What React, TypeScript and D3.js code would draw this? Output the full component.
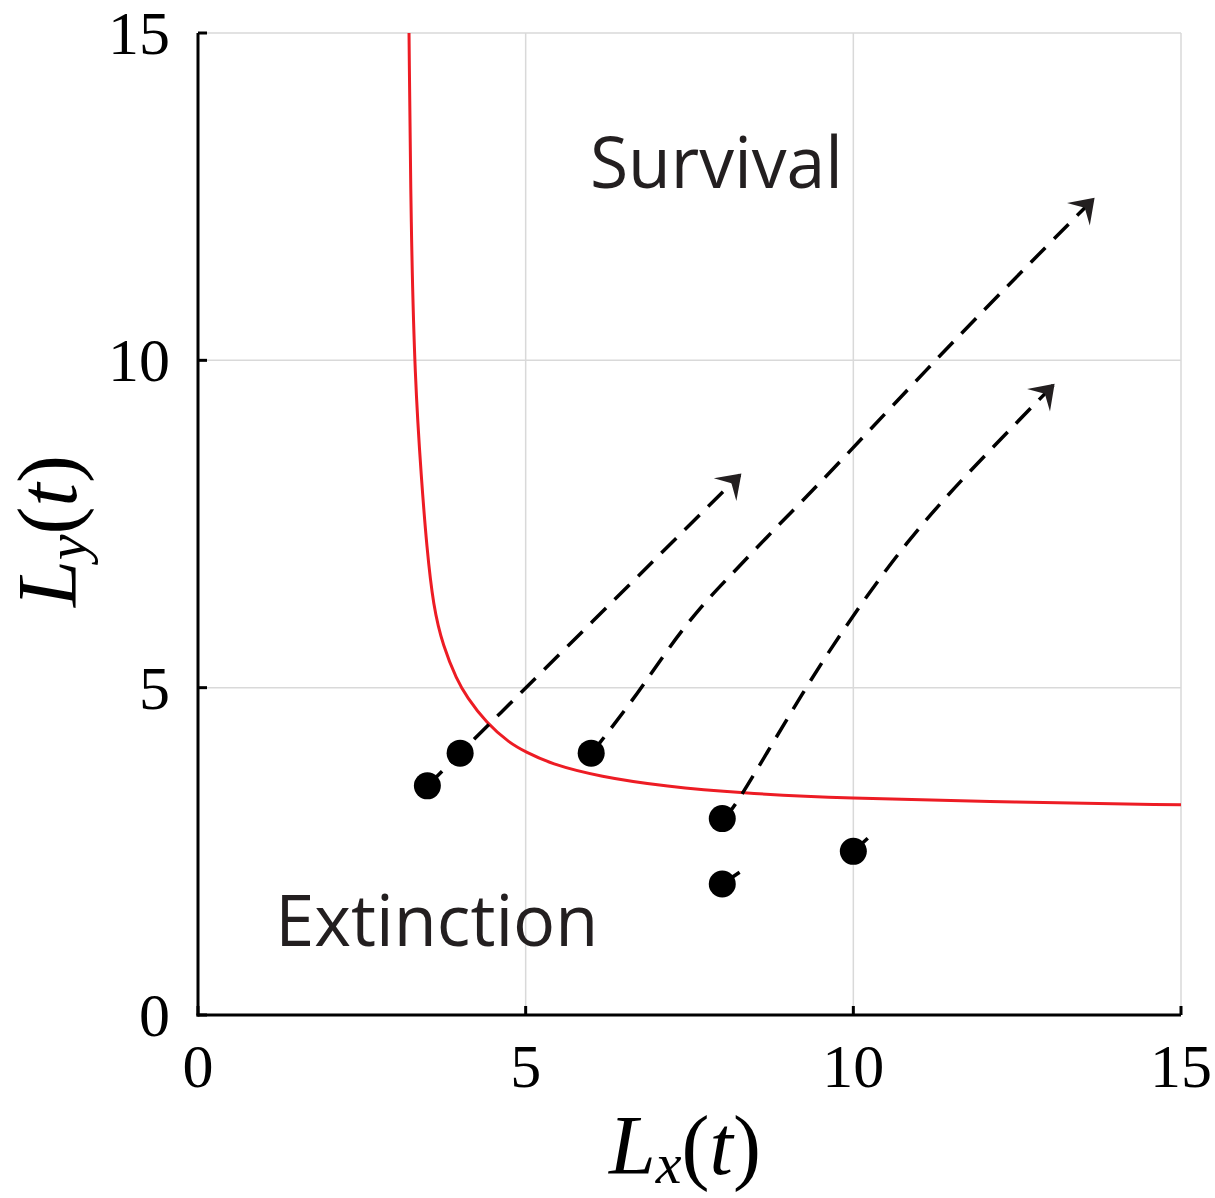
import React from "react";
import * as d3 from "d3";

// ---------- data ----------
const xTicks = [0, 5, 10, 15];
const yTicks = [0, 5, 10, 15];

// survival/extinction boundary
const boundaryX = [3.22, 3.25, 3.31, 3.41, 3.49, 3.59, 3.74, 3.95, 4.1, 4.4, 4.76, 5.0, 5.37, 6.13, 7.15, 8.27, 9.8, 12.5, 15];
const boundaryY = [15, 12, 9.7, 8.17, 7.15, 6.24, 5.63, 5.12, 4.86, 4.46, 4.15, 4.02, 3.84, 3.64, 3.49, 3.39, 3.31, 3.25, 3.21];

// initial conditions
const startX = [3.5, 4, 6, 8, 8, 10];
const startY = [3.5, 4, 4, 3, 2, 2.5];

// trajectories
const traj1X = [3.5, 4, 8.27];
const traj1Y = [3.5, 4, 8.25];
const traj2X = [6.0, 6.64, 7.16, 7.66, 8.16, 8.68, 9.19, 9.8, 11.32, 12.74, 13.66];
const traj2Y = [3.99, 4.81, 5.58, 6.23, 6.75, 7.3, 7.82, 8.45, 10.08, 11.53, 12.46];
const traj3X = [8.0, 8.16, 8.68, 9.19, 9.8, 10.82, 11.83, 13.05];
const traj3Y = [2.98, 3.13, 4.0, 4.86, 5.83, 7.26, 8.37, 9.62];
const traj4X = [8.0, 8.38];
const traj4Y = [2.0, 2.26];
const traj5X = [10.0, 10.22];
const traj5Y = [2.5, 2.7];

const arrowed = [true, true, true, false, false];

const regionLabels = ["Survival", "Extinction"];
const regionLabelX = [5.98, 1.18];
const regionLabelY = [12.63, 1.05];

// ---------- layout ----------
const W = 1215;
const H = 1198;
const left = 198, right = 1181, top = 33, bottom = 1015;

export default function App() {
  const x = d3.scaleLinear().domain([0, 15]).range([left, right]);
  const y = d3.scaleLinear().domain([0, 15]).range([bottom, top]);

  const zip = (xs: number[], ys: number[]) => xs.map((v, i) => [v, ys[i]] as [number, number]);

  const boundaryLine = d3
    .line<[number, number]>()
    .x((d) => x(d[0]))
    .y((d) => y(d[1]))
    .curve(d3.curveBasis);

  const trajLine = d3
    .line<[number, number]>()
    .x((d) => x(d[0]))
    .y((d) => y(d[1]))
    .curve(d3.curveBasis);

  const trajs = [
    zip(traj1X, traj1Y),
    zip(traj2X, traj2Y),
    zip(traj3X, traj3Y),
    zip(traj4X, traj4Y),
    zip(traj5X, traj5Y),
  ];

  const arrowHead = (pts: [number, number][]) => {
    const n = pts.length;
    const [x1, y1] = pts[n - 2];
    const [x2, y2] = pts[n - 1];
    const px1 = x(x1), py1 = y(y1), px2 = x(x2), py2 = y(y2);
    const ang = (Math.atan2(py2 - py1, px2 - px1) * 180) / Math.PI;
    return (
      <path
        d="M2,0 L-21,-16 L-12,0 L-21,16 Z"
        fill="#231f20"
        transform={`translate(${px2},${py2}) rotate(${ang})`}
      />
    );
  };

  const serif = "'Liberation Serif', 'Times New Roman', serif";

  return (
    <svg
      width={W}
      height={H}
      style={{ position: "absolute", left: 0, top: 0, background: "#fff" }}
    >
      <rect x={0} y={0} width={W} height={H} fill="#fff" />
      {/* grid */}
      {xTicks.map((t) => (
        <line key={"gx" + t} x1={x(t)} x2={x(t)} y1={y(0)} y2={y(15)} stroke="#d9d9d9" strokeWidth={1.5} />
      ))}
      {yTicks.map((t) => (
        <line key={"gy" + t} x1={x(0)} x2={x(15)} y1={y(t)} y2={y(t)} stroke="#d9d9d9" strokeWidth={1.5} />
      ))}

      {/* boundary */}
      <path
        d={boundaryLine(zip(boundaryX, boundaryY)) || ""}
        fill="none"
        stroke="#ed1c24"
        strokeWidth={3}
      />

      {/* trajectories */}
      {trajs.map((pts, i) => (
        <g key={"t" + i}>
          <path
            d={trajLine(pts) || ""}
            fill="none"
            stroke="#000"
            strokeWidth={3.5}
            strokeDasharray="21 12"
          />
          {arrowed[i] && arrowHead(pts)}
        </g>
      ))}

      {/* starting points */}
      {startX.map((v, i) => (
        <circle key={"p" + i} cx={x(v)} cy={y(startY[i])} r={13.5} fill="#000" />
      ))}

      {/* axes */}
      <line x1={x(0)} x2={x(0)} y1={y(0) + 1.5} y2={y(15)} stroke="#000" strokeWidth={3} />
      <line x1={x(0) - 1.5} x2={x(15)} y1={y(0)} y2={y(0)} stroke="#000" strokeWidth={3} />
      {yTicks.map((t) => (
        <line key={"ty" + t} x1={x(0)} x2={x(0) + 9} y1={y(t)} y2={y(t)} stroke="#000" strokeWidth={3} />
      ))}
      {xTicks.map((t) => (
        <line key={"tx" + t} x1={x(t)} x2={x(t)} y1={y(0)} y2={y(0) - 9} stroke="#000" strokeWidth={3} />
      ))}

      {/* tick labels */}
      {yTicks.map((t) => (
        <text
          key={"ly" + t}
          x={x(0) - 28}
          y={y(t) + 21}
          textAnchor="end"
          fontFamily={serif}
          fontSize={62}
          fill="#000"
        >
          {t}
        </text>
      ))}
      {xTicks.map((t) => (
        <text
          key={"lx" + t}
          x={x(t)}
          y={y(0) + 72}
          textAnchor="middle"
          fontFamily={serif}
          fontSize={62}
          fill="#000"
        >
          {t}
        </text>
      ))}

      {/* axis titles */}
      <text x={685} y={1174} textAnchor="middle" fontFamily={serif} fontSize={84} fill="#000">
        <tspan fontStyle="italic">L</tspan>
        <tspan fontStyle="italic" fontSize={58} dy={9}>x</tspan>
        <tspan dy={-9}>(</tspan>
        <tspan fontStyle="italic">t</tspan>
        <tspan>)</tspan>
      </text>
      <text
        transform={`translate(76,531) rotate(-90)`}
        textAnchor="middle"
        fontFamily={serif}
        fontSize={84}
        fill="#000"
      >
        <tspan fontStyle="italic">L</tspan>
        <tspan fontStyle="italic" fontSize={58} dy={10}>y</tspan>
        <tspan dy={-10}>(</tspan>
        <tspan fontStyle="italic">t</tspan>
        <tspan>)</tspan>
      </text>

      {/* region labels */}
      {regionLabels.map((s, i) => (
        <text
          key={s}
          x={x(regionLabelX[i])}
          y={y(regionLabelY[i])}
          fontFamily="'Open Sans', sans-serif"
          fontSize={71}
          fill="#231f20"
          textLength={i === 0 ? 253 : 323}
          lengthAdjust="spacingAndGlyphs"
        >
          {s}
        </text>
      ))}
    </svg>
  );
}
